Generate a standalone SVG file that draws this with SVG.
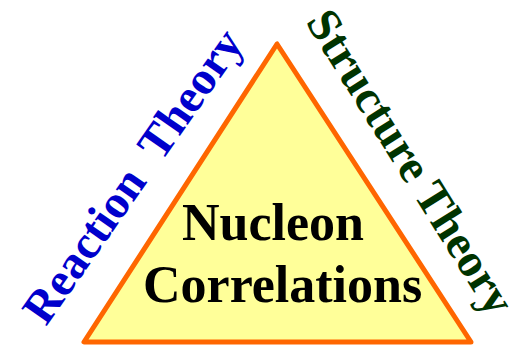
<svg xmlns="http://www.w3.org/2000/svg" width="519" height="351" viewBox="0 0 519 351">
<style>
.lbl{font-family:"Liberation Serif","Times New Roman",serif;font-weight:bold}
.ctr{font-family:"Liberation Serif","Times New Roman",serif;font-weight:bold;font-size:52px;fill:#000}
</style>
<rect width="519" height="351" fill="#fff"/>
<g id="triangle">
<polygon points="277,44 84,342 471,342" fill="#ffff99" stroke="#ff6600" stroke-width="5" stroke-linejoin="round"/>
<text class="ctr" x="182" y="240">Nucleon</text>
<text class="ctr" x="143" y="302">Correlations</text>
</g>
<g id="reaction">
<text class="lbl" font-size="47" fill="#0000cc" transform="translate(46,327) rotate(-55)">Reaction<tspan dx="23">Theory</tspan></text>
</g>
<g id="structure">
<text class="lbl" font-size="47" fill="#003300" transform="translate(305,22) rotate(58)">Structure Theory</text>
</g>
<g id="connectors"/>
</svg>
